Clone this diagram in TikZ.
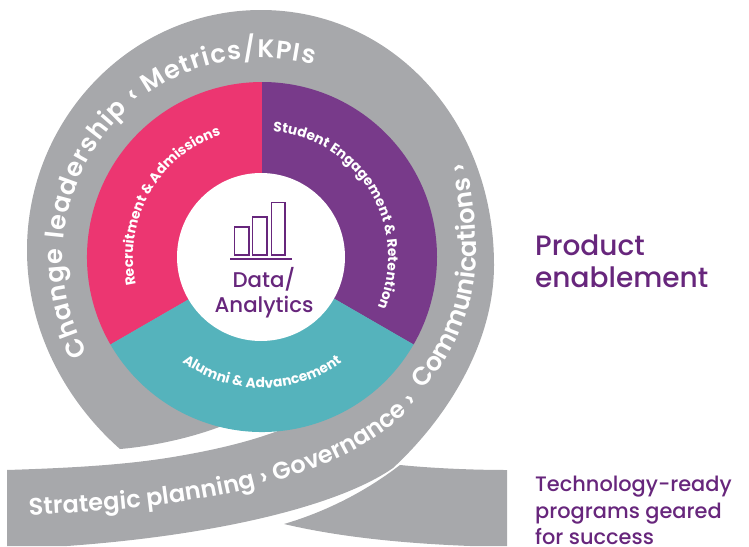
\documentclass[tikz,border=0pt]{standalone}
\usepackage{fontspec}
\setmainfont{Poppins}
\newfontfamily\medf{Poppins Medium}
\newfontfamily\ringf{Poppins SemiBold}
\newfontfamily\segf{Poppins}
\usetikzlibrary{decorations.text}
\definecolor{ringgrey}{HTML}{A7A8AB}
\definecolor{segpink}{HTML}{EC3671}
\definecolor{segpurple}{HTML}{783A8A}
\definecolor{segteal}{HTML}{55B3BC}
\definecolor{inkpurple}{HTML}{67267C}
\newcommand{\ringfont}{\ringf\fontsize{24}{24}\selectfont\color{white}}
\newcommand{\ringfontbig}{\ringf\fontsize{25.5}{25.5}\selectfont\color{white}}
\newcommand{\segfont}{\segf\bfseries\fontsize{13.8}{13.8}\selectfont\color{white}}
\tikzset{
  ringtext/.style={decorate,decoration={text along path,text align={fit to path},text={|\ringfont|#1}}},
  ringtextbig/.style={decorate,decoration={text along path,text align={fit to path},text={|\ringfontbig|#1}}},
  segtext/.style={decorate,decoration={text along path,text align={fit to path},text={|\segfont|#1}}},
  sidetext/.style={anchor=base west,text=inkpurple,inner sep=0pt},
  bar/.style={draw=inkpurple,line width=1.8pt,fill=white}
}
\begin{document}
\begin{tikzpicture}[x=1pt,y=-1pt]
\useasboundingbox (0,0) rectangle (749,546);
\coordinate (c) at (262,257);
\coordinate (cc) at (262,252);
% grey band
\fill[ringgrey] (120,449)
  .. controls (70,405) and (27,335) .. (27,250)
  .. controls (27,120) and (130,10) .. (261,10)
  .. controls (392,10) and (494,120) .. (494,265)
  .. controls (494,345) and (445,420) .. (393,468)
  .. controls (340,505) and (220,535) .. (67,546)
  -- (7,546) -- (7,470)
  .. controls (70,468) and (125,465) .. (173,457)
  .. controls (215,450) and (260,440) .. (300,422)
  -- (227,424)
  .. controls (195,437) and (155,446) .. (120,449) -- cycle;
% lower right piece
\fill[ringgrey] (400,465) .. controls (430,468) and (470,470) .. (507,470)
  -- (507,546) -- (470,546)
  .. controls (395,543) and (335,536) .. (284,524)
  .. controls (325,512) and (365,492) .. (400,465) -- cycle;
% segments
\fill[segpink] (c) -- ([shift={(150:175)}]c) arc[start angle=150,end angle=270,radius=175] -- cycle;
\fill[segpurple] (c) -- ([shift={(270:175)}]c) arc[start angle=270,end angle=390,radius=175] -- cycle;
\fill[segteal] (c) -- ([shift={(30:175)}]c) arc[start angle=30,end angle=150,radius=175] -- cycle;
\fill[white] (261,257) circle[radius=84];
% icon
\draw[bar] (234.5,227) rectangle (249,255);
\draw[bar] (252.5,217) rectangle (267,255);
\draw[bar] (271.5,202.5) rectangle (285,255);
\draw[inkpurple,line width=2pt] (230,259) -- (292,259);
\node[text=inkpurple,inner sep=0pt,anchor=base,font=\medf\fontsize{21.3}{21.3}\selectfont] (data) at (264,287) {Data/};
\node[text=inkpurple,inner sep=0pt,anchor=base,font=\medf\fontsize{21.3}{21.3}\selectfont] (analytics) at (264,312) {Analytics};
% ring text
\path[ringtextbig={Change leadership ‹ Metrics/KPIs}] ([shift={(151:199)}]c) arc[start angle=151,end angle=285,radius=199];
\path[ringtext={Strategic planning › Governance ›}]
  (29,515) .. controls (140,510) and (240,500) .. (330,462)
  .. controls (365,447) and (395,425) .. (418,402);
\path[ringtextbig={Communications ›}]
  (422,389) .. controls (460,350) and (476,300) .. (476,250)
  .. controls (476,225) and (473,195) .. (466,163);
% segment text
\path[segtext={Recruitment {\&} Admissions}] ([shift={(167.5:129)}]c) arc[start angle=167.5,end angle=251,radius=129];
\path[segtext={Student Engagement {\&} Retention}] ([shift={(275:126)}]c) arc[start angle=275,end angle=383.5,radius=126];
\path[segtext={Alumni {\&} Advancement}] ([shift={(126:136)}]cc) arc[start angle=126,end angle=54,radius=136];
% side text
\node[sidetext,font=\medf\fontsize{28}{28}\selectfont] (p1) at (535,255) {Product};
\node[sidetext,font=\medf\fontsize{28}{28}\selectfont] (p2) at (535,287) {enablement};
\node[sidetext,font=\medf\fontsize{20.9}{20.9}\selectfont] (t1) at (535,491) {Technology-ready};
\node[sidetext,font=\medf\fontsize{20.9}{20.9}\selectfont] (t2) at (535,518) {programs geared};
\node[sidetext,font=\medf\fontsize{20.9}{20.9}\selectfont] (t3) at (535,544) {for success};
\end{tikzpicture}
\end{document}
